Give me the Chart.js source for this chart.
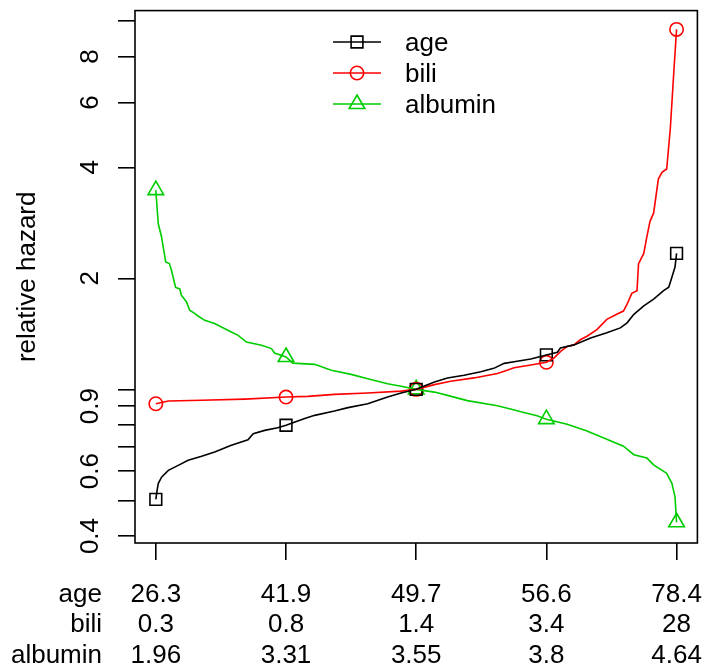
<!DOCTYPE html>
<html>
<head>
<meta charset="utf-8">
<script src="https://cdn.jsdelivr.net/npm/chart.js@4/dist/chart.umd.min.js"></script>
<style>
  html, body { margin: 0; padding: 0; background: #fff; }
  #wrap { width: 708px; height: 667px; }
</style>
</head>
<body>
<div id="wrap"><canvas id="hazard"></canvas></div>
<script>
// x is the percentile of each variable, y the relative hazard (log scale)
const agePct = [0, 0.15, 0.46, 1.1, 2.4, 4.3, 6.2, 8.8, 11.3, 14.5, 17.7, 18.7, 20.9, 23.4, 25, 28.6, 30.5, 34.3, 36.9, 40.7, 44.5, 47.1, 50, 53.5, 56, 59.2, 62.4, 64.9, 66.9, 68.8, 72, 75, 77.1, 77.7, 80.3, 83.5, 86.6, 89.2, 90.5, 91.8, 93.7, 95.6, 97.5, 98.5, 99.1, 99.7, 100];
const ageHazard = [0.503, 0.521, 0.555, 0.578, 0.603, 0.622, 0.642, 0.658, 0.676, 0.705, 0.730, 0.758, 0.774, 0.787, 0.799, 0.833, 0.850, 0.873, 0.892, 0.914, 0.953, 0.977, 1.0, 1.047, 1.074, 1.092, 1.116, 1.140, 1.176, 1.188, 1.209, 1.240, 1.261, 1.294, 1.320, 1.378, 1.423, 1.468, 1.515, 1.598, 1.684, 1.756, 1.852, 1.892, 2.014, 2.147, 2.337];

const biliPct = [0, 2.4, 8.8, 17.1, 25, 29.2, 34.3, 40.7, 47.1, 50, 53.5, 56.6, 61.1, 65.6, 66.9, 68.8, 72, 75, 76.4, 77.7, 79, 80.3, 81.5, 82.8, 84.7, 86.6, 88.5, 89.8, 90.5, 91.4, 92.4, 92.7, 93.7, 94.3, 94.9, 95.6, 96.5, 97.2, 98.1, 98.8, 99.4, 100];
const biliHazard = [0.914, 0.930, 0.934, 0.941, 0.953, 0.957, 0.969, 0.977, 0.989, 1.0, 1.030, 1.052, 1.074, 1.104, 1.120, 1.145, 1.164, 1.184, 1.214, 1.266, 1.307, 1.320, 1.363, 1.393, 1.452, 1.548, 1.598, 1.631, 1.702, 1.821, 1.852, 2.192, 2.337, 2.595, 2.856, 3.01, 3.718, 3.877, 3.96, 5.10, 7.0, 9.47];

const albPct = [0, 0.46, 1.1, 1.9, 2.6, 3.0, 3.8, 4.6, 4.9, 5.9, 6.5, 7.5, 8.1, 9.4, 11.3, 12.6, 14.5, 15.8, 17.4, 20.3, 22.2, 22.8, 25, 26.3, 30.5, 33.7, 37.5, 40.7, 44.5, 47.1, 50, 53.5, 56, 59.8, 65.6, 68.1, 70.1, 73.2, 75, 79, 82.8, 86.6, 89.8, 91.8, 94.3, 95.6, 98.1, 99.1, 99.7, 100];
const albHazard = [3.47, 2.817, 2.59, 2.216, 2.194, 2.104, 1.889, 1.872, 1.80, 1.726, 1.639, 1.605, 1.581, 1.539, 1.508, 1.476, 1.43, 1.401, 1.344, 1.317, 1.29, 1.255, 1.224, 1.178, 1.169, 1.126, 1.098, 1.069, 1.036, 1.019, 1.0, 0.983, 0.963, 0.932, 0.903, 0.885, 0.869, 0.848, 0.830, 0.804, 0.771, 0.732, 0.701, 0.665, 0.651, 0.624, 0.592, 0.556, 0.511, 0.436];

// quantile markers (min, Q1, median, Q3, max)
const markPct = [0, 25, 50, 75, 100];
const ageMarks = [0.503, 0.799, 1.0, 1.240, 2.337];
const biliMarks = [0.914, 0.953, 1.0, 1.184, 9.47];
const albMarks = [3.47, 1.224, 1.0, 0.830, 0.436];

// labels under the x axis
const rowNames = ["age", "bili", "albumin"];
const ageQuant = ["26.3", "41.9", "49.7", "56.6", "78.4"];
const biliQuant = ["0.3", "0.8", "1.4", "3.4", "28"];
const albQuant = ["1.96", "3.31", "3.55", "3.8", "4.64"];

const yTicks = [0.4, 0.5, 0.6, 0.7, 0.8, 0.9, 1, 2, 4, 6, 8, 10];
const yLabelled = [0.4, 0.6, 0.9, 2, 4, 6, 8];

const BLACK = "#000000";
const RED = "#ff0000";
const GREEN = "#00cd00";
const FONT = "26px 'Liberation Sans', Arial, sans-serif";

const pts = (xs, ys) => xs.map((x, i) => ({ x: x, y: ys[i] }));

const curve = (label, xs, ys, color) => ({
  label: label,
  data: pts(xs, ys),
  showLine: true,
  borderColor: color,
  borderWidth: 1.6,
  pointRadius: 0,
  fill: false,
});

const marks = (label, ys, color, style, r) => ({
  label: label,
  data: pts(markPct, ys),
  showLine: false,
  pointStyle: style,
  pointRadius: r,
  pointBorderWidth: 1.6,
  pointBorderColor: color,
  pointBackgroundColor: "rgba(0,0,0,0)",
});

function drawMarker(ctx, style, x, y, color) {
  ctx.save();
  ctx.strokeStyle = color;
  ctx.lineWidth = 1.6;
  ctx.beginPath();
  if (style === "rect") {
    ctx.rect(x - 5.9, y - 5.9, 11.8, 11.8);
  } else if (style === "circle") {
    ctx.arc(x, y, 6.7, 0, Math.PI * 2);
  } else {
    ctx.moveTo(x, y - 9);
    ctx.lineTo(x + 7.8, y + 4.5);
    ctx.lineTo(x - 7.8, y + 4.5);
    ctx.closePath();
  }
  ctx.stroke();
  ctx.restore();
}

const rDecor = {
  id: "rDecor",
  afterDraw(chart) {
    const ctx = chart.ctx;
    const area = chart.chartArea;
    const xs = chart.scales.x;
    const ys = chart.scales.y;

    ctx.save();
    // plot box
    ctx.strokeStyle = BLACK;
    ctx.lineWidth = 1.6;
    ctx.strokeRect(area.left, area.top, area.right - area.left, area.bottom - area.top);

    ctx.fillStyle = BLACK;
    ctx.font = FONT;

    // rotated y tick labels
    ctx.textAlign = "center";
    ctx.textBaseline = "alphabetic";
    yLabelled.forEach(v => {
      const py = ys.getPixelForValue(v);
      ctx.save();
      ctx.translate(98, py);
      ctx.rotate(-Math.PI / 2);
      ctx.fillText(String(v), 0, 0);
      ctx.restore();
    });

    // y title
    ctx.save();
    ctx.translate(35, (area.top + area.bottom) / 2);
    ctx.rotate(-Math.PI / 2);
    ctx.fillText("relative hazard", 0, 0);
    ctx.restore();

    // quantile rows under the axis
    const rows = [ageQuant, biliQuant, albQuant];
    const baselines = [602, 632, 663];
    rows.forEach((row, r) => {
      ctx.textAlign = "right";
      ctx.fillText(rowNames[r], 102, baselines[r]);
      ctx.textAlign = "center";
      row.forEach((txt, i) => {
        ctx.fillText(txt, xs.getPixelForValue(markPct[i]), baselines[r]);
      });
    });

    // legend
    const legend = [
      ["age", BLACK, "rect"],
      ["bili", RED, "circle"],
      ["albumin", GREEN, "triangle"],
    ];
    legend.forEach((item, i) => {
      const ly = 42 + i * 31;
      ctx.strokeStyle = item[1];
      ctx.lineWidth = 1.6;
      ctx.beginPath();
      ctx.moveTo(333, ly);
      ctx.lineTo(381, ly);
      ctx.stroke();
      drawMarker(ctx, item[2], 357, ly, item[1]);
      ctx.fillStyle = BLACK;
      ctx.textAlign = "left";
      ctx.fillText(item[0], 405, ly + 9);
    });
    ctx.restore();
  },
};

new Chart(document.getElementById("hazard"), {
  type: "scatter",
  data: {
    datasets: [
      curve("age", agePct, ageHazard, BLACK),
      curve("bili", biliPct, biliHazard, RED),
      curve("albumin", albPct, albHazard, GREEN),
      marks("age q", ageMarks, BLACK, "rect", 8.3),
      marks("bili q", biliMarks, RED, "circle", 6.7),
      marks("albumin q", albMarks, GREEN, "triangle", 9),
    ],
  },
  options: {
    responsive: true,
    maintainAspectRatio: false,
    animation: false,
    devicePixelRatio: 1,
    layout: {
      padding: { top: 10, right: 8, left: 0, bottom: 0 },
    },
    plugins: {
      legend: { display: false },
      tooltip: { enabled: false },
    },
    scales: {
      x: {
        type: "linear",
        min: -4,
        max: 104,
        afterBuildTicks: scale => {
          scale.ticks = markPct.map(v => ({ value: v }));
        },
        afterFit: scale => {
          scale.height = 124;
        },
        ticks: { display: false },
        grid: {
          drawOnChartArea: false,
          drawTicks: true,
          tickLength: 17,
          color: BLACK,
          lineWidth: 1.6,
        },
        border: { display: false },
      },
      y: {
        type: "logarithmic",
        min: 0.383,
        max: 10.65,
        afterBuildTicks: scale => {
          scale.ticks = yTicks.map(v => ({ value: v }));
        },
        afterFit: scale => {
          scale.width = 135;
        },
        ticks: { display: false },
        grid: {
          drawOnChartArea: false,
          drawTicks: true,
          tickLength: 17,
          color: BLACK,
          lineWidth: 1.6,
        },
        border: { display: false },
      },
    },
  },
  plugins: [rDecor],
});
</script>
</body>
</html>
